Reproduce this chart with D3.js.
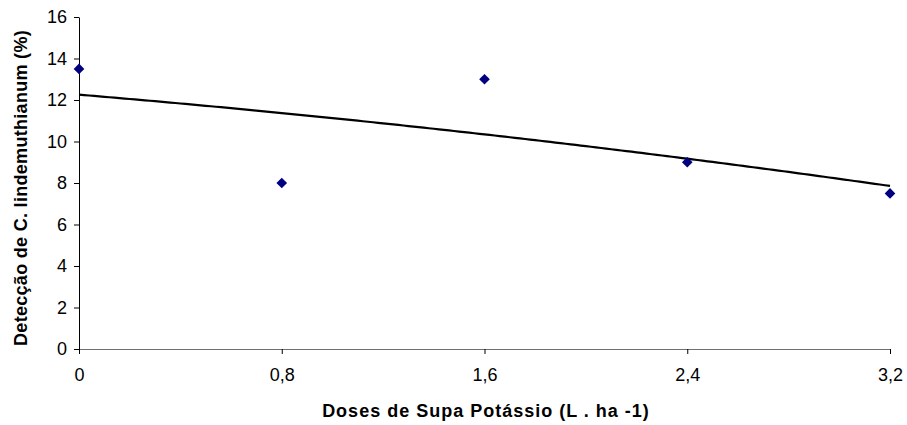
<!DOCTYPE html>
<html>
<head>
<meta charset="utf-8">
<script src="https://cdn.jsdelivr.net/npm/d3@7"></script>
<style>
  body { margin: 0; background: #fff; }
  svg { display: block; }
  .tick text { font-family: "Liberation Sans", Arial, sans-serif; font-size: 18px; fill: #000; }
  .title { font-family: "Liberation Sans", Arial, sans-serif; font-size: 18px; font-weight: bold; fill: #000; }
</style>
</head>
<body>
<svg id="chart" width="907" height="425"></svg>
<script>
// doses (L/ha) and detection (%)
var doses = [0, 0.8, 1.6, 2.4, 3.2];
var deteccao = [13.5, 8, 13, 9, 7.5];
var xTicks = [0, 0.8, 1.6, 2.4, 3.2];
var yTicks = [0, 2, 4, 6, 8, 10, 12, 14, 16];

/* polynomial trendline (order 2), least squares on the points */
function polyFit(xs, ys) {
  var s = [0, 0, 0, 0, 0], t = [0, 0, 0];
  xs.forEach(function(xi, i) {
    for (var k = 0; k < 5; k++) s[k] += Math.pow(xi, k);
    for (var k = 0; k < 3; k++) t[k] += Math.pow(xi, k) * ys[i];
  });
  var m = [[s[0], s[1], s[2], t[0]], [s[1], s[2], s[3], t[1]], [s[2], s[3], s[4], t[2]]];
  for (var i = 0; i < 3; i++) {
    for (var j = i + 1; j < 3; j++) {
      var f = m[j][i] / m[i][i];
      for (var k = i; k < 4; k++) m[j][k] -= f * m[i][k];
    }
  }
  var c = [0, 0, 0];
  for (var i = 2; i >= 0; i--) {
    var v = m[i][3];
    for (var k = i + 1; k < 3; k++) v -= m[i][k] * c[k];
    c[i] = v / m[i][i];
  }
  return function(v) { return c[0] + c[1] * v + c[2] * v * v; };
}

function draw() {
  var svg = d3.select('#chart');
  var mLeft = 79, mRight = 890, mTop = 17, mBottom = 349;

  var x = d3.scaleLinear().domain([0, 3.2]).range([mLeft, mRight]);
  var y = d3.scaleLinear().domain([0, 16]).range([mBottom, mTop]);
  var fmt = function(d) { return d3.format('.1~f')(d).replace('.', ','); };
  var trend = polyFit(doses, deteccao);

  var yAxis = d3.axisLeft(y).tickValues(yTicks).tickSize(5).tickPadding(7).tickSizeOuter(0);
  var gy = svg.append('g').attr('transform', 'translate(' + mLeft + ',0)').call(yAxis);
  gy.selectAll('line, path').attr('stroke', '#000');

  var xAxis = d3.axisBottom(x).tickValues(xTicks).tickFormat(fmt).tickSize(5).tickPadding(14).tickSizeOuter(0);
  var gx = svg.append('g').attr('transform', 'translate(0,' + mBottom + ')').call(xAxis);
  gx.select('.domain').attr('stroke', '#707070');
  gx.selectAll('.tick line').attr('stroke', '#000');

  var samples = d3.range(0, 3.2001, 0.02);
  svg.append('path')
    .datum(samples)
    .attr('fill', 'none')
    .attr('stroke', '#000')
    .attr('stroke-width', 2.2)
    .attr('d', d3.line().x(function(d) { return x(d); }).y(function(d) { return y(trend(d)); }));

  svg.selectAll('.pt')
    .data(doses)
    .enter()
    .append('path')
    .attr('class', 'pt')
    .attr('d', d3.symbol().type(d3.symbolDiamond2).size(72))
    .attr('fill', '#000080')
    .attr('transform', function(d, i) { return 'translate(' + x(d) + ',' + y(deteccao[i]) + ')'; });

  svg.append('text')
    .attr('class', 'title')
    .attr('x', 486)
    .attr('y', 417)
    .attr('text-anchor', 'middle')
    .style('letter-spacing', '1px')
    .text('Doses de Supa Potássio (L . ha -1)');

  svg.append('text')
    .attr('class', 'title')
    .attr('transform', 'translate(27,188) rotate(-90)')
    .attr('text-anchor', 'middle')
    .style('letter-spacing', '0.3px')
    .text('Detecção de C. lindemuthianum (%)');
}
draw();
</script>
</body>
</html>
